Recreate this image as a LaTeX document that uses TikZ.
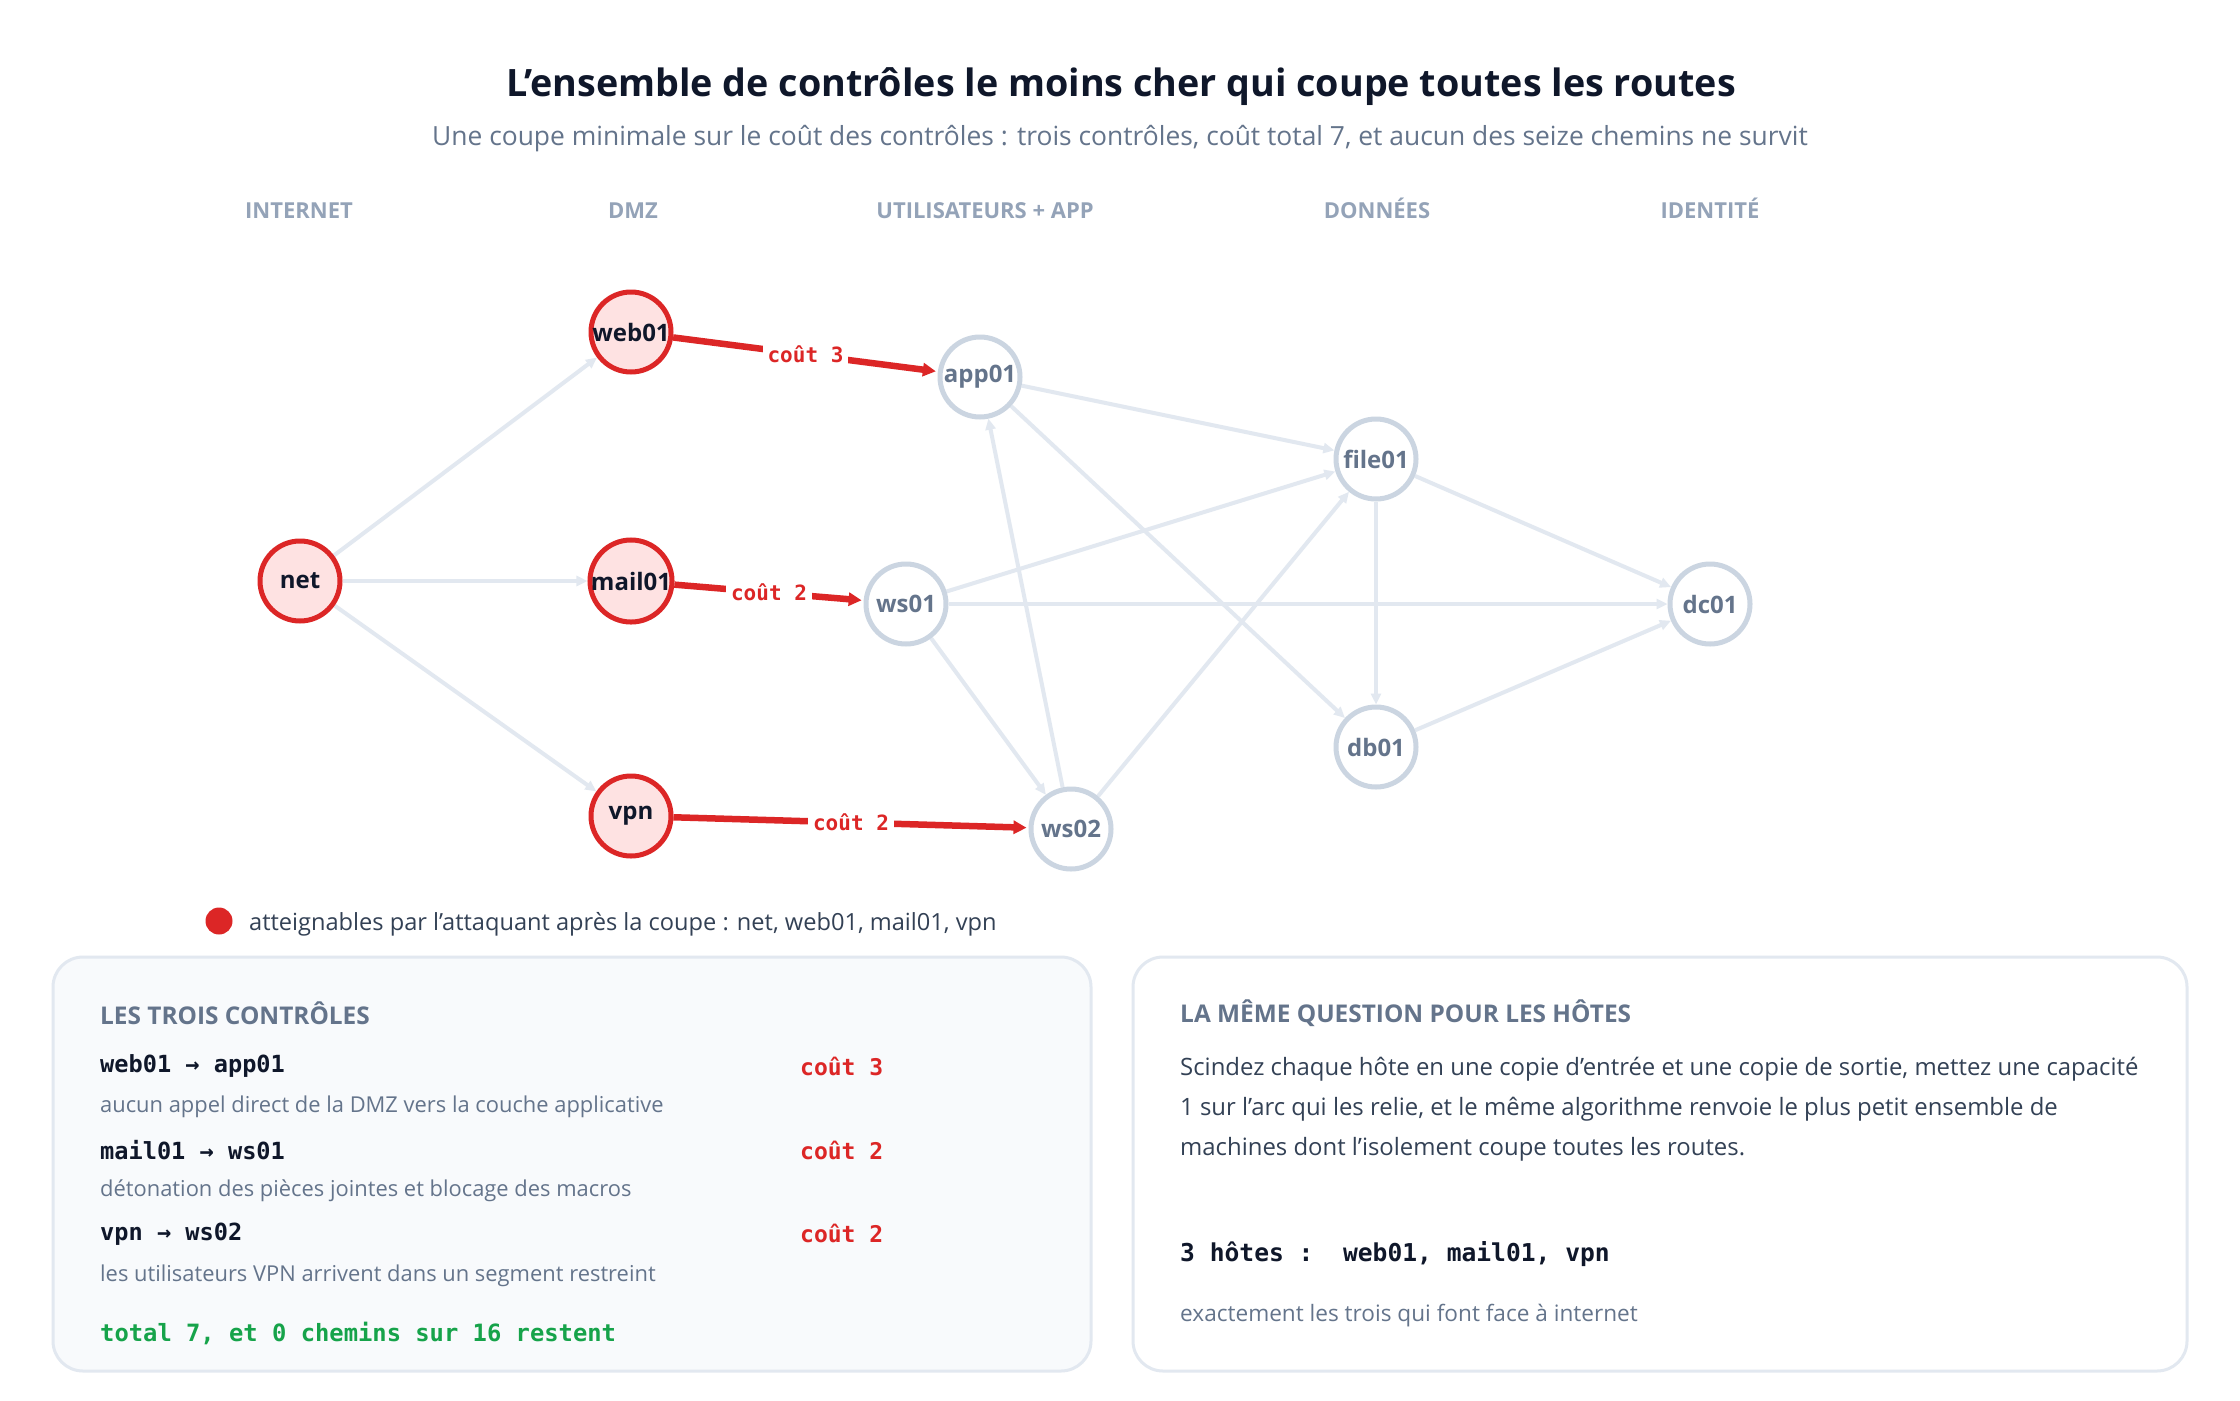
\documentclass[tikz,border=0pt]{standalone}
\usepackage{fontspec}
\setmainfont{Open Sans}
\setmonofont{DejaVu Sans Mono}
\usetikzlibrary{arrows.meta,backgrounds}
\definecolor{ink}{HTML}{0F172A}
\definecolor{slate}{HTML}{64748B}
\definecolor{muted}{HTML}{94A3B8}
\definecolor{body}{HTML}{334155}
\definecolor{cutred}{HTML}{DC2626}
\definecolor{redfill}{HTML}{FEE2E2}
\definecolor{greyring}{HTML}{CBD5E1}
\definecolor{edgegrey}{HTML}{E2E8F0}
\definecolor{panelfill}{HTML}{F8FAFC}
\definecolor{okgreen}{HTML}{16A34A}
\newcommand{\fsz}[1]{\fontsize{#1}{#1}\selectfont}
\tikzset{
  host/.style={circle, minimum size=80pt, inner sep=0pt, line width=5pt, font=\fsz{24}\bfseries},
  reached/.style={host, draw=cutred, fill=redfill, text=ink},
  safe/.style={host, draw=greyring, fill=white, text=slate},
  flow/.style={draw=edgegrey, line width=4pt, -{Triangle[length=11pt,width=10pt]}},
  cutedge/.style={draw=cutred, line width=6.5pt, -{Triangle[length=13pt,width=13pt]}, shorten >=2pt},
  cutlabel/.style={fill=white, text=cutred, inner sep=5pt, font=\ttfamily\bfseries\fsz{21}},
  colhead/.style={anchor=base, text=muted, font=\bfseries\fsz{22}},
  panel/.style={draw=edgegrey, line width=3pt, rounded corners=30pt},
  ptitle/.style={anchor=west, text=slate, font=\bfseries\fsz{24.4}, inner sep=0pt},
  pmono/.style={anchor=west, text=ink, font=\ttfamily\bfseries\fsz{23.6}, inner sep=0pt},
  pcost/.style={anchor=west, text=cutred, font=\ttfamily\bfseries\fsz{23}, inner sep=0pt},
  pnote/.style={anchor=west, text=slate, font=\fsz{21.9}, inner sep=0pt},
  pbody/.style={anchor=west, text=body, font=\fsz{23.9}, inner sep=0pt}
}
\begin{document}
\begin{tikzpicture}[x=1pt,y=-1pt]
\useasboundingbox (0,0) rectangle (2240,1400);
\begin{scope}[on background layer]
\fill[white] (0,0) rectangle (2240,1400);
\end{scope}

% titles
\node[text=ink, font=\bfseries\fsz{37.7}] (title) at (1121,87) {L’ensemble de contrôles le moins cher qui coupe toutes les routes};
\node[text=slate, font=\fsz{26.4}] (subtitle) at (1120,139) {Une coupe minimale sur le coût des contrôles : trois contrôles, coût total 7, et aucun des seize chemins ne survit};

% column headers
\node[colhead] (h1) at (299,218) {INTERNET};
\node[colhead] (h2) at (633,218) {DMZ};
\node[colhead] (h3) at (985,218) {UTILISATEURS + APP};
\node[colhead] (h4) at (1377,218) {DONNÉES};
\node[colhead] (h5) at (1710,218) {IDENTITÉ};

% hosts
\node[reached] (net) at (300,581) {net};
\node[reached] (web01) at (631,332) {web01};
\node[reached] (mail01) at (631,581) {mail01};
\node[reached] (vpn) at (631,816) {vpn};
\node[safe] (app01) at (980,377) {app01};
\node[safe] (ws01) at (906,604) {ws01};
\node[safe] (ws02) at (1071,829) {ws02};
\node[safe] (file01) at (1376,459) {file01};
\node[safe] (db01) at (1376,747) {db01};
\node[safe] (dc01) at (1710,604) {dc01};

% reachable-graph edges
\begin{scope}[on background layer]
\draw[flow] (net) -- (web01);
\draw[flow] (net) -- (mail01);
\draw[flow] (net) -- (vpn);
\draw[flow] (app01) -- (file01);
\draw[flow] (app01) -- (db01);
\draw[flow] (ws01) -- (file01);
\draw[flow] (ws01) -- (dc01);
\draw[flow] (ws01) -- (ws02);
\draw[flow] (ws02) -- (app01);
\draw[flow] (ws02) -- (file01);
\draw[flow] (file01) -- (dc01);
\draw[flow] (file01) -- (db01);
\draw[flow] (db01) -- (dc01);
\end{scope}

% cut edges
\draw[cutedge] (web01) -- node[cutlabel] (c1) {coût 3} (app01);
\draw[cutedge] (mail01) -- node[cutlabel] (c2) {coût 2} (ws01);
\draw[cutedge] (vpn) -- node[cutlabel] (c3) {coût 2} (ws02);

% legend
\fill[cutred] (219,921) circle (13.5);
\node[anchor=west, text=body, font=\fsz{23.6}, inner sep=0pt] (legend) at (249,924) {atteignables par l’attaquant après la coupe : net, web01, mail01, vpn};

% left panel
\draw[panel, fill=panelfill] (53,957) rectangle (1091,1371);
\node[ptitle] (lt) at (100,1013) {LES TROIS CONTRÔLES};
\node[pmono] (r1) at (100,1066) {web01 → app01};
\node[pcost] (k1) at (800,1066) {coût 3};
\node[pnote] (n1) at (100,1107) {aucun appel direct de la DMZ vers la couche applicative};
\node[pmono] (r2) at (100,1150) {mail01 → ws01};
\node[pcost] (k2) at (800,1150) {coût 2};
\node[pnote] (n2) at (100,1191) {détonation des pièces jointes et blocage des macros};
\node[pmono] (r3) at (100,1234) {vpn → ws02};
\node[pcost] (k3) at (800,1233) {coût 2};
\node[pnote] (n3) at (100,1276) {les utilisateurs VPN arrivent dans un segment restreint};
\node[anchor=west, text=okgreen, font=\ttfamily\bfseries\fsz{23.8}, inner sep=0pt] (tot) at (100,1333) {total 7, et 0 chemins sur 16 restent};

% right panel
\draw[panel, fill=white] (1133,957) rectangle (2187,1371);
\node[ptitle] (rt) at (1180,1013) {LA MÊME QUESTION POUR LES HÔTES};
\node[pbody] (b1) at (1180,1069) {Scindez chaque hôte en une copie d’entrée et une copie de sortie, mettez une capacité};
\node[pbody] (b2) at (1180,1109) {1 sur l’arc qui les relie, et le même algorithme renvoie le plus petit ensemble de};
\node[pbody] (b3) at (1180,1149) {machines dont l’isolement coupe toutes les routes.};
\node[anchor=west, text=ink, font=\ttfamily\bfseries\fsz{24.6}, inner sep=0pt] (hosts) at (1180,1254) {3 hôtes :\ \ web01, mail01, vpn};
\node[anchor=west, text=slate, font=\fsz{22.6}, inner sep=0pt] (n4) at (1180,1316) {exactement les trois qui font face à internet};
\end{tikzpicture}
\end{document}
